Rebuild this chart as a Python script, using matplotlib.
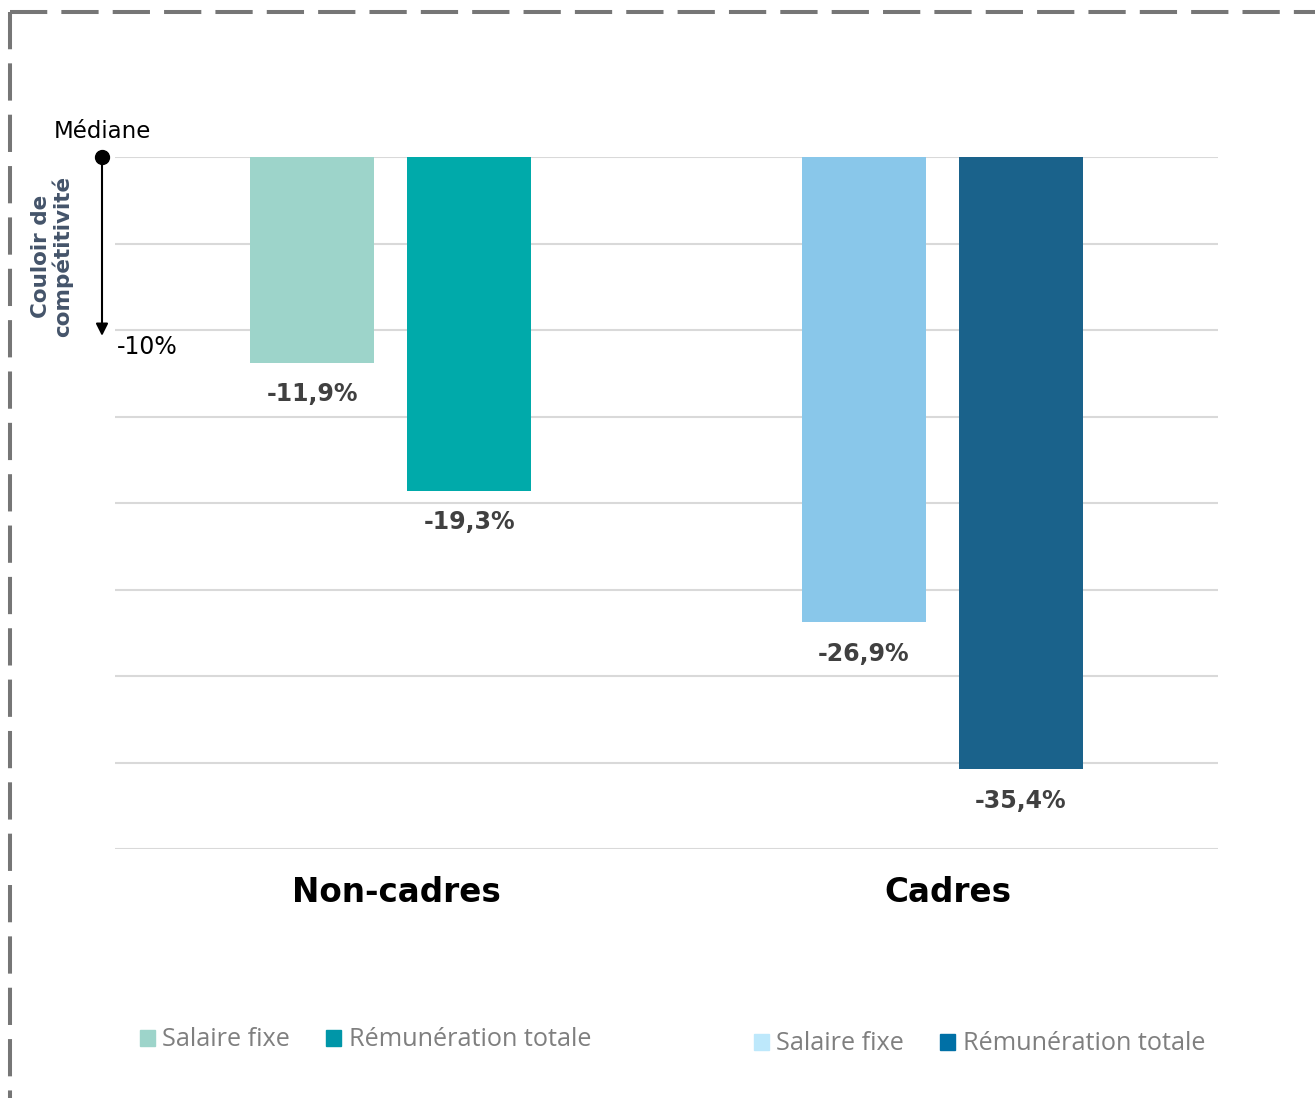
import matplotlib.pyplot as plt
from matplotlib.lines import Line2D
from matplotlib.patches import Patch
import matplotlib.transforms as mtransforms

# Écart à la médiane du marché (%)
categories = ['Non-cadres', 'Cadres']
salaire_fixe = [-11.9, -26.9]
remuneration_totale = [-19.3, -35.4]
value_labels_fixe = ['-11,9%', '-26,9%']
value_labels_totale = ['-19,3%', '-35,4%']

bar_colors_fixe = ['#9dd4ca', '#89c7ea']
bar_colors_totale = ['#00aaaa', '#1a628b']
legend_colors = {'Non-cadres': ['#9dd4ca', '#0096a8'],
                 'Cadres': ['#bde8fb', '#0070a6']}

fig = plt.figure(figsize=(13.15, 10.98), dpi=100)
ax = fig.add_axes([115 / 1315, 1 - 849 / 1098, 1103 / 1315, 692 / 1098])

width = 0.2244
offset = 0.1425
xs = range(len(categories))
for i in xs:
    ax.bar(i - offset, salaire_fixe[i], width, color=bar_colors_fixe[i], zorder=3)
    ax.bar(i + offset, remuneration_totale[i], width, color=bar_colors_totale[i], zorder=3)
    ax.text(i - offset, salaire_fixe[i] - 1.8, value_labels_fixe[i], ha='center', va='center',
            fontsize=17, fontweight='bold', color='#404040')
    ax.text(i + offset, remuneration_totale[i] - 1.8, value_labels_totale[i], ha='center', va='center',
            fontsize=17, fontweight='bold', color='#404040')

ax.set_xlim(-0.5, 1.5)
ax.set_ylim(-40, 0)
ax.set_yticks(range(-40, 1, 5))
ax.yaxis.grid(True, color='#d9d9d9', linewidth=1.5, zorder=0)
ax.tick_params(left=False, bottom=False, labelleft=False, labelbottom=False)
for s in ax.spines.values():
    s.set_visible(False)

# noms de catégories sous l'axe
for i, c in enumerate(categories):
    ax.text(i + 0.01, -42.5, c, ha='center', va='center', fontsize=23.5, fontweight='bold',
            color='black', clip_on=False)

# couloir de compétitivité : médiane -> -10%
trans = mtransforms.blended_transform_factory(ax.transAxes, ax.transData)
xa = -13 / 1103
ax.annotate('', xy=(xa, -10.5), xytext=(xa, 0), xycoords=trans, textcoords=trans,
            arrowprops=dict(arrowstyle='-|>', color='black', lw=1.5, mutation_scale=18),
            annotation_clip=False)
ax.plot([xa], [0], 'o', color='black', markersize=10, transform=trans, clip_on=False, zorder=5)
ax.text(xa, 1.5, 'Médiane', transform=trans, ha='center', va='center', fontsize=16.5)
ax.text(0.002, -11, '-10%', transform=trans, ha='left', va='center', fontsize=17)
fig.text(52 / 1315, 1 - 256 / 1098, 'Couloir de\ncompétitivité', rotation=90,
         ha='center', va='center', fontsize=15.5, fontweight='bold', color='#44546a',
         linespacing=1.05)

# légendes
for cat, (lx, ly) in zip(categories, [(117 / 1315, 1 - 1040 / 1098), (731 / 1315, 1 - 1044 / 1098)]):
    handles = [Patch(color=legend_colors[cat][0], label='Salaire fixe'),
               Patch(color=legend_colors[cat][1], label='Rémunération totale')]
    leg = fig.legend(handles=handles, loc='center left', bbox_to_anchor=(lx, ly), ncol=2,
                     frameon=False, handlelength=0.6, handleheight=0.6,
                     handletextpad=0.3, columnspacing=1.4,
                     prop={'family': 'Open Sans', 'size': 18.2})
    for t in leg.get_texts():
        t.set_color('#7f7f7f')

# cadre en pointillés
dash = (0, (9.25, 3.5))
fig.add_artist(Line2D([10 / 1315, 1], [1 - 12 / 1098] * 2, color='#767676', lw=2.9,
                      linestyle=dash, transform=fig.transFigure))
fig.add_artist(Line2D([10 / 1315] * 2, [1 - 12 / 1098, 0], color='#767676', lw=2.9,
                      linestyle=dash, transform=fig.transFigure))

plt.savefig('out.png', dpi=100)
